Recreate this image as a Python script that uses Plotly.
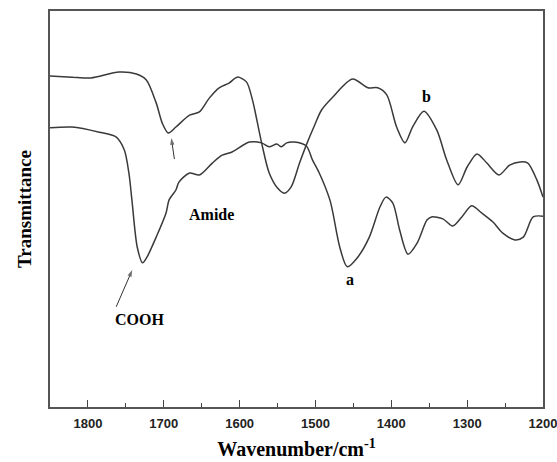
import plotly.graph_objects as go

# Curve b (upper spectrum)
wn_b = [1850, 1821, 1796, 1759, 1736, 1723, 1710, 1702, 1694, 1684, 1666, 1653, 1640,
        1627, 1614, 1603, 1591, 1583, 1580, 1571, 1561, 1550, 1541, 1532, 1521, 1512,
        1501, 1492, 1477, 1451, 1431, 1418, 1406, 1393, 1382, 1372, 1357, 1340, 1327,
        1312, 1300, 1287, 1274, 1258, 1244, 1230, 1220, 1208, 1200]
t_b = [83.6, 83.3, 83.1, 84.6, 84.1, 82.6, 76.8, 71.7, 69.2, 70.7, 73.7, 74.5, 78.0,
       80.6, 81.8, 83.3, 82.1, 77.5, 75.0, 66.7, 59.1, 55.3, 54.0, 55.6, 61.6, 66.2,
       71.2, 75.0, 78.3, 82.8, 80.6, 80.6, 78.8, 70.7, 66.7, 70.7, 74.7, 69.9, 62.4,
       56.1, 60.6, 63.9, 61.6, 58.6, 61.1, 61.9, 61.6, 57.3, 53.0]

# Curve a (lower spectrum)
wn_a = [1850, 1821, 1785, 1763, 1752, 1746, 1742, 1735, 1728, 1722, 1710, 1697, 1693,
        1684, 1680, 1666, 1653, 1636, 1623, 1610, 1587, 1571, 1561, 1551, 1545, 1538,
        1528, 1512, 1504, 1495, 1481, 1477, 1468, 1458, 1444, 1429, 1415, 1407, 1398,
        1389, 1378, 1366, 1353, 1347, 1332, 1319, 1307, 1294, 1281, 1266, 1253, 1237,
        1226, 1213, 1200]
t_a = [70.5, 70.7, 69.4, 68.2, 64.9, 59.1, 52.3, 40.4, 36.4, 37.9, 42.9, 49.0, 52.3,
       54.8, 56.8, 59.1, 58.6, 61.6, 63.6, 64.4, 66.9, 66.7, 65.7, 66.4, 65.7, 66.7,
       66.9, 65.9, 62.4, 59.1, 52.3, 49.0, 40.4, 35.4, 37.9, 42.9, 50.5, 53.0, 51.5,
       44.7, 38.6, 41.4, 47.2, 48.0, 47.5, 45.7, 48.0, 50.8, 49.0, 46.7, 43.9, 42.2,
       42.9, 48.0, 48.2]

# Pointer arrows (tail -> head)
arrow_b_x = [1686, 1690]
arrow_b_y = [62.6, 67.9]
arrow_cooh_x = [1762.7, 1741.6]
arrow_cooh_y = [25.3, 34.6]

tick_vals = [1800, 1700, 1600, 1500, 1400, 1300, 1200]
tick_text = ["<b>1800</b>", "<b>1700</b>", "<b>1600</b>", "<b>1500</b>",
             "<b>1400</b>", "<b>1300</b>", "<b>1200</b>"]

line_col = "#3a3a3a"
fig = go.Figure()
fig.add_trace(go.Scatter(x=wn_b, y=t_b, mode="lines",
                         line=dict(color=line_col, width=1.5, shape="spline", smoothing=0.8),
                         showlegend=False, hoverinfo="skip"))
fig.add_trace(go.Scatter(x=wn_a, y=t_a, mode="lines",
                         line=dict(color=line_col, width=1.5, shape="spline", smoothing=0.8),
                         showlegend=False, hoverinfo="skip"))

for ax_, ay_ in [(arrow_b_x, arrow_b_y), (arrow_cooh_x, arrow_cooh_y)]:
    fig.add_trace(go.Scatter(x=ax_, y=ay_, mode="lines+markers",
                             line=dict(color="#333", width=1),
                             marker=dict(symbol=["circle", "arrow"], size=[0, 7],
                                         angleref="previous", color="#333",
                                         line=dict(width=0)),
                             showlegend=False, hoverinfo="skip"))

serif = "Liberation Serif"
tfont = dict(family=serif, size=16, color="black")

fig.add_annotation(x=1353, y=78.3, text="<b>b</b>", showarrow=False, font=tfont)
fig.add_annotation(x=1455, y=32.1, text="<b>a</b>", showarrow=False, font=tfont)
fig.add_annotation(x=1637, y=48.5, text="<b>Amide</b>", showarrow=False, font=tfont)
fig.add_annotation(x=1732, y=22.0, text="<b>COOH</b>", showarrow=False, font=tfont)

fig.update_layout(
    width=557, height=462,
    margin=dict(l=50, r=14, t=11, b=55, autoexpand=False),
    paper_bgcolor="white", plot_bgcolor="white",
    xaxis=dict(range=[1850, 1200], tickvals=tick_vals, ticktext=tick_text,
               ticks="inside", ticklen=7, tickwidth=1.2, tickcolor="#444",
               minor=dict(dtick=50, ticks="inside", ticklen=4, tickcolor="#444", tickwidth=1.2),
               showgrid=False, zeroline=False, ticklabeloverflow="allow",
               ticklabelstandoff=4, automargin=False,
               showline=True, linecolor="#555", linewidth=1.5, mirror=True,
               tickfont=dict(family="Liberation Sans", size=13, color="#222"),
               title=dict(text="<b>Wavenumber/cm<sup>-1</sup></b>",
                          font=dict(family=serif, size=20, color="black"), standoff=12)),
    yaxis=dict(range=[0, 100], showticklabels=False, ticks="", automargin=False,
               showgrid=False, zeroline=False,
               showline=True, linecolor="#555", linewidth=1.5, mirror=True,
               title=dict(text="<b>Transmittance</b>",
                          font=dict(family=serif, size=19, color="black"), standoff=12)),
)

fig.write_html("out.html")
